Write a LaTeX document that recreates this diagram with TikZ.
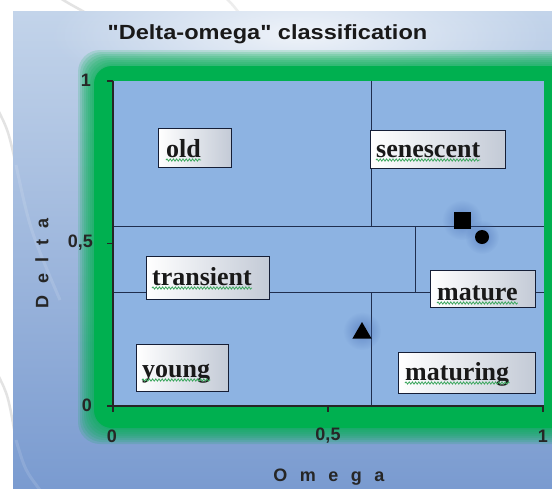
\documentclass[tikz,border=0pt]{standalone}
\usepackage{fontspec}
\setmainfont{Liberation Serif}
\newfontfamily\titlefont[FakeStretch=1.15]{Liberation Sans}
\newfontfamily\axfont{Liberation Sans}
\usetikzlibrary{fadings,decorations.pathmorphing,shapes.geometric}
\definecolor{bgtop}{HTML}{C3D4EA}
\definecolor{bgbot}{HTML}{7A9BD0}
\definecolor{plotblue}{HTML}{8DB3E2}
\definecolor{gframe}{HTML}{00B050}
\definecolor{sepcol}{HTML}{1F2E4E}
\definecolor{boxcol}{HTML}{151E36}
\definecolor{boxgray}{HTML}{C3CAD6}
\definecolor{wavecol}{HTML}{3FA860}
\definecolor{glowblue}{HTML}{3F66B0}
\tikzfading[name=softglow, inner color=transparent!0, outer color=transparent!100]
\tikzset{
  sepline/.style={draw=sepcol, line width=0.9pt},
  axisline/.style={draw=black!85, line width=1.3pt},
  ticklbl/.style={font=\axfont\bfseries\fontsize{18}{20}\selectfont, text=black!85, inner sep=0pt},
  axlbl/.style={font=\axfont\bfseries\fontsize{18}{20}\selectfont, text=black!85, inner sep=0pt},
  lbox/.style={draw=boxcol, line width=1.4pt, left color=white, right color=boxgray, anchor=north west, inner sep=0pt},
  ltext/.style={font=\bfseries\fontsize{26}{28}\selectfont, text=black!90, anchor=base west, inner sep=0pt},
  wave/.style={draw=wavecol, line width=0.8pt, decorate, decoration={snake, amplitude=1.1pt, segment length=3.2pt}},
  marker/.style={fill=black, inner sep=0pt},
  glow/.style={fill=glowblue, path fading=softglow, fill opacity=0.55},
  wmark/.style={draw=gray!22, line width=2.5pt}
}
\begin{document}
\begin{tikzpicture}[x=1pt,y=-1pt]
\useasboundingbox (0,0) rectangle (552,488);
\clip (0,0) rectangle (552,488);
\fill[white] (0,0) rectangle (552,488);
% watermark strokes in the margins
\draw[wmark] (60,-2) .. controls (68,3) .. (88,14);
\draw[wmark] (226,-2) .. controls (232,4) .. (240,14);
\draw[wmark] (-2,110) .. controls (8,130) .. (16,165);
\draw[wmark] (-2,375) .. controls (8,395) .. (16,440);
% background
\shade[top color=bgtop, bottom color=bgbot] (13,11) rectangle (552,488);
\fill[white, path fading=softglow, fill opacity=0.75] (300,34) ellipse (250 and 70);
\draw[white, opacity=0.12, line width=3pt] (16,165) .. controls (30,230) .. (60,300);
\draw[white, opacity=0.12, line width=3pt] (16,440) .. controls (25,470) .. (40,490);
% green frame with soft edges
\foreach \d in {16,14,12,10,8,6,4,2}
  \fill[gframe, opacity=0.16, rounded corners=22pt] (94-\d,66-\d) rectangle (620,428+\d);
\fill[gframe, rounded corners=18pt] (94,66) rectangle (620,428);
% plot area
\fill[plotblue] (113,81) rectangle (544,406);
% named corners of the plot
\coordinate (o) at (113,406);
\coordinate (ytop) at (113,81);
\coordinate (xend) at (544,406);
% separation lines
\draw[sepline] (113,226) -- (544,226);
\draw[sepline] (113,292) -- (544,292);
\draw[sepline] (371,81) -- (371,226);
\draw[sepline] (415,226) -- (415,292);
\draw[sepline] (371,292) -- (371,406);
% axes
\draw[axisline] (ytop) -- (o) -- (xend);
\foreach \y in {81,243.5,406} \draw[axisline] (107,\y) -- (113,\y);
\foreach \x in {113,328,543} \draw[axisline] (\x,406) -- (\x,412);
% tick labels
\node[ticklbl, anchor=east] (y1) at (91,80) {1};
\node[ticklbl, anchor=east] (y05) at (93,243) {0,5};
\node[ticklbl, anchor=east] (y0) at (92,405) {0};
\node[ticklbl] (x0) at (112,436) {0};
\node[ticklbl] (x05) at (328,436) {0,5};
\node[ticklbl] (x1) at (543,436) {1};
% axis titles
\node[axlbl] (xlab) at (329,477) {\spaceskip=12.5pt O m e g a};
\node[axlbl, rotate=90] (ylab) at (42,263) {\spaceskip=11.5pt D e l t a};
% title
\node[font=\titlefont\bfseries\fontsize{20.5}{24}\selectfont, text=black!90, inner sep=0pt] (title) at (267.5,34) {"Delta-omega" classification};
% glows of the markers
\fill[glow] (462,220) circle (20);
\fill[glow] (482,237) circle (17);
\fill[glow] (362,331) circle (19);
% markers
\node[marker, minimum size=17pt] (sq) at (462,220) {};
\node[marker, circle, minimum size=14pt] (ci) at (482,237) {};
\node[marker, regular polygon, regular polygon sides=3, minimum size=22pt] (tr) at (362,333) {};
% label boxes
\node[lbox, minimum width=73pt, minimum height=39pt] (bold) at (158,128) {};
\node[ltext] (told) at (166,157) {old};
\node[lbox, minimum width=135pt, minimum height=38pt] (bsen) at (370,130) {};
\node[ltext] (tsen) at (376,157) {senescent};
\node[lbox, minimum width=123pt, minimum height=43pt] (btra) at (146,256) {};
\node[ltext] (ttra) at (152,285) {transient};
\node[lbox, minimum width=105pt, minimum height=37pt] (bmat) at (430,270) {};
\node[ltext] (tmat) at (437,300) {mature};
\node[lbox, minimum width=92pt, minimum height=47pt] (byou) at (136,344) {};
\node[ltext] (tyou) at (142,377) {young};
\node[lbox, minimum width=137pt, minimum height=41pt] (bmng) at (398,352) {};
\node[ltext] (tmng) at (405,380) {maturing};
% spell-check wavy underlines
\foreach \t in {told,tsen,ttra,tmat,tyou,tmng}
  \draw[wave] ([yshift=-3pt]\t.base west) -- ([yshift=-3pt]\t.base east);
\end{tikzpicture}
\end{document}
